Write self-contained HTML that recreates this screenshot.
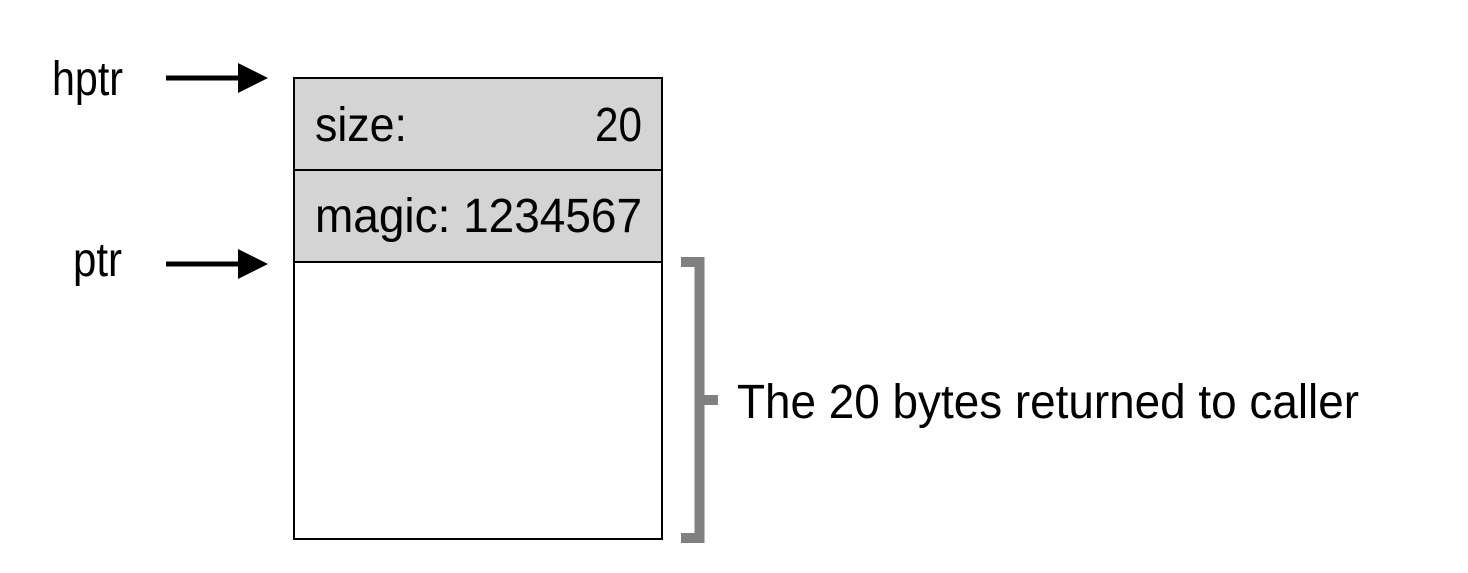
<!DOCTYPE html>
<html><head><style>body{margin:0;background:#fff}</style></head><body>
<svg width="1468" height="568" xmlns="http://www.w3.org/2000/svg" font-family="Liberation Sans, sans-serif" font-size="48">
<rect x="294" y="78" width="368" height="92" fill="#d4d4d4" stroke="#000" stroke-width="2"/>
<rect x="294" y="170" width="368" height="92" fill="#d4d4d4" stroke="#000" stroke-width="2"/>
<rect x="294" y="262" width="368" height="277" fill="#fff" stroke="#000" stroke-width="2"/>
<text x="315" y="141" textLength="92" lengthAdjust="spacingAndGlyphs">size:</text>
<text x="595" y="141" textLength="47" lengthAdjust="spacingAndGlyphs">20</text>
<text x="315" y="232" textLength="327" lengthAdjust="spacingAndGlyphs">magic: 1234567</text>
<text x="52" y="95" textLength="71" lengthAdjust="spacingAndGlyphs">hptr</text>
<text x="73" y="276" textLength="49" lengthAdjust="spacingAndGlyphs">ptr</text>
<line x1="166" y1="78" x2="240" y2="78" stroke="#000" stroke-width="5"/>
<polygon points="238,63 268,78 238,93" fill="#000"/>
<line x1="166" y1="264" x2="240" y2="264" stroke="#000" stroke-width="5"/>
<polygon points="238,249 268,264 238,279" fill="#000"/>
<path d="M681 262 H699.5 V538 H681" fill="none" stroke="#808080" stroke-width="10"/>
<rect x="699" y="395" width="19" height="10" fill="#808080"/>
<text x="737" y="418" textLength="622" lengthAdjust="spacingAndGlyphs">The 20 bytes returned to caller</text>
</svg>
</body></html>
